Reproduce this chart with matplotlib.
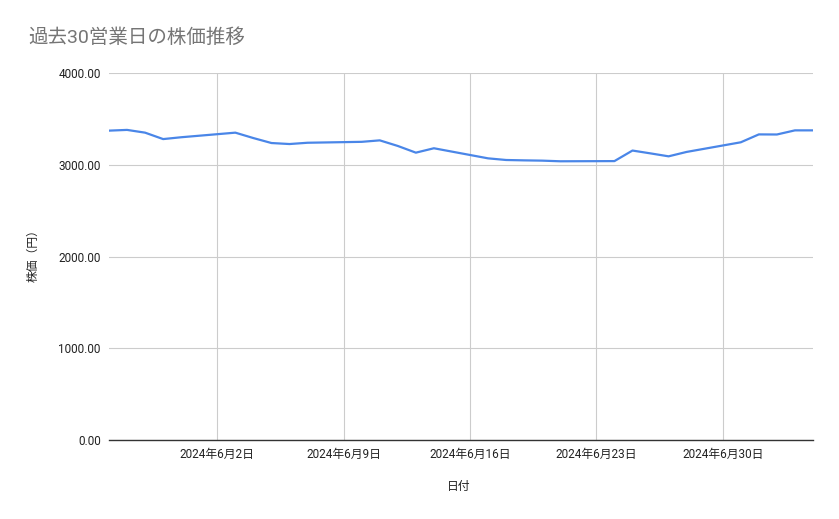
import pandas as pd
import matplotlib
matplotlib.use("Agg")
import matplotlib.pyplot as plt
import matplotlib.dates as mdates

plt.rcParams['font.family'] = ['Roboto', 'Noto Sans CJK JP', 'DejaVu Sans']

# data (30 business days)
dates = pd.bdate_range('2024-05-27', '2024-07-05')
prices = [3372, 3380, 3350, 3280, 3300,
          3350, 3291, 3237, 3226, 3240,
          3250, 3266, 3205, 3132, 3180,
          3070, 3052, 3048, 3045, 3038,
          3040, 3155, 3124, 3092, 3140,
          3245, 3331, 3330, 3375, 3375]
tick_dates = pd.to_datetime(['2024-06-02', '2024-06-09', '2024-06-16',
                             '2024-06-23', '2024-06-30'])
y_ticks = [0, 1000, 2000, 3000, 4000]

fig = plt.figure(figsize=(8.39, 5.19), dpi=100)
ax = fig.add_axes([0.1299, 0.1522, 0.8391, 0.7071])

ax.plot(dates, prices, color='#4a86e8', linewidth=1.6, solid_joinstyle='round')

ax.set_xlim(dates[0], dates[-1])
ax.set_ylim(0, 4000)
ax.set_yticks(y_ticks)
ax.set_yticklabels([f'{v:.2f}' for v in y_ticks])
ax.set_xticks(tick_dates)
ax.set_xticklabels([f'{d.year}年{d.month}月{d.day}日' for d in tick_dates])

ax.grid(True, color='#cccccc', linewidth=0.8)
ax.set_axisbelow(True)
for s in ['top', 'right', 'left']:
    ax.spines[s].set_visible(False)
ax.spines['bottom'].set_color('#333333')
ax.spines['bottom'].set_linewidth(1.0)
ax.tick_params(axis='both', length=0, labelsize=8.5, colors='#222222')
ax.tick_params(axis='y', pad=6)
ax.tick_params(axis='x', pad=6)

fig.text(0.0334, 0.927, '過去30営業日の株価推移', fontsize=14, color='#757575',
         ha='left', va='center')
fig.text(0.0393, 0.513, '株価（円）', rotation=90, fontsize=8.5, color='#222222',
         ha='center', va='center', family=['Noto Sans CJK JP'])
fig.text(0.547, 0.063, '日付', fontsize=8.5, color='#222222',
         ha='center', va='center')

fig.savefig('out.png', dpi=100)
